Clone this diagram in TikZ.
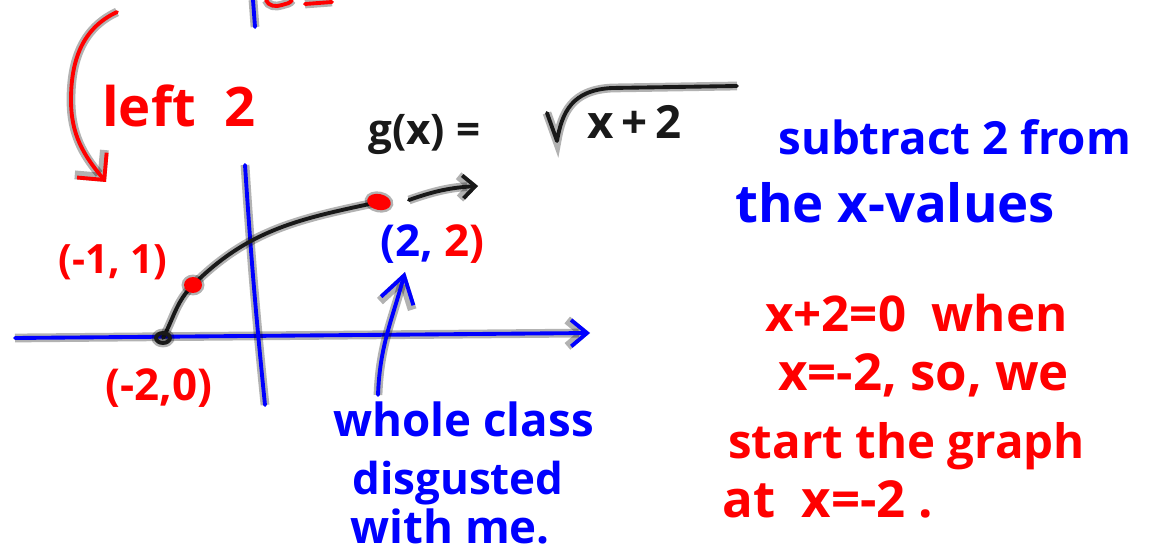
\documentclass[tikz,border=0pt]{standalone}
\usepackage{fontspec}
\setmainfont{Open Sans}
\usetikzlibrary{arrows.meta,positioning}
\definecolor{inkblue}{RGB}{0, 0, 255}
\definecolor{inkred}{RGB}{255, 0, 0}
\definecolor{inkblack}{RGB}{25, 25, 25}
\tikzset{
  pen/.style={line width=2.2pt, line cap=round, line join=round, preaction={draw, line width=5pt, opacity=0.3}},
  barb/.style={-{Straight Barb[length=#1, width=15pt]}},
  barb/.default=9pt,
  scrawl/.style={inner sep=0pt, anchor=base west, font=\fontsize{#1}{#1}\selectfont\bfseries},
  scrawl/.default=28
}

\begin{document}
\begin{tikzpicture}[x=0.02cm, y=-0.02cm]
  \useasboundingbox (0,0) rectangle (1152,560);

  \coordinate (xl) at (15,338);
  \coordinate (xr) at (590,333);
  \coordinate (yt) at (245,165);
  \coordinate (yb) at (265,405);
  \coordinate (start) at (163,338);
  \coordinate (pa) at (193,285);
  \coordinate (pb) at (379,202);
  \coordinate (tail) at (409,200);
  \coordinate (head) at (478,186);
  \coordinate (vote) at (378,395);
  \coordinate (tip) at (405,272);
  \coordinate (cs) at (117,12);
  \coordinate (cm) at (71,100);
  \coordinate (ce) at (106,182);

  \node [scrawl=31, text=inkred] (left2) at (102,127) {left\ \ 2};
  \node [scrawl=23, text=inkred] (lblA) at (58,274) {(-1, 1)};
  \node [scrawl=25, text=inkred] (lblO) at (105,400) {(-2,0)};
  \node [scrawl=25, text=inkred] (lblB) at (380,257) {\textcolor{inkblue}{(2,} 2)};
  \node [scrawl=24, text=inkblack] (gx) at (368,145) {g(x) =};
  \node [scrawl=26, text=inkblack] (rad) at (587,139) {x\,+\,2};

  \node [scrawl=26, text=inkblue] (sub) at (778,155) {subtract 2 from};
  \node [scrawl=30, text=inkblue] (xval) at (735,223) {the x-values};
  \node [scrawl=28, text=inkred] (zero) at (765,332) {x+2=0 \ when};
  \node [scrawl=29, text=inkred] (neg) at (778,390) {x=-2, so, we};
  \node [scrawl=27, text=inkred] (startg) at (728,458) {start the graph};
  \node [scrawl=29, text=inkred] (atx) at (722,517) {at \ x=-2 .};

  \node [scrawl=26, text=inkblue] (whole) at (333,436) {whole class};
  \node [scrawl=25, text=inkblue] (disg) at (352,494) {disgusted};
  \node [scrawl=26, text=inkblue] (withme) at (350,543) {with me.};

  \draw [pen, inkblue, barb] (xl) -- (xr);
  \draw [pen, inkblue] (yt) to[bend right=1] (yb);
  \draw [pen, inkblue] (253,0) -- (255,27);
  \draw [pen, inkred] (266,0) to[out=-70, in=200] (282,5) to[out=20, in=-120] (292,0);
  \draw [pen, inkred] (305,4) -- (332,2);
  \draw [pen, inkblack] (start) to[out=62, in=225] (pa) to[out=45, in=192] (pb);
  \draw [pen, inkblack] (start) ellipse (7 and 5);
  \draw [pen, inkred, fill=inkred] (pa) ellipse (7 and 6);
  \draw [pen, inkred, fill=inkred, rotate around={-12:(pb)}] (pb) ellipse (10 and 6);
  \draw [pen, inkblack, -{Straight Barb[length=7pt, width=13pt]}] (tail) to[bend left=8] (head);
  \draw [pen, inkblue, -{Straight Barb[length=15pt, width=19pt]}] (vote) to[out=88, in=255] (tip);
  \draw [pen, inkred, -{Straight Barb[length=11pt, width=22pt]}] (cs) to[out=205, in=90] (cm) to[out=-90, in=130] (ce);
  \draw [pen, inkblack] (547,113) -- (557,141) .. controls (562,112) and (572,90) .. (612,88) -- (737,86);
\end{tikzpicture}
\end{document}
